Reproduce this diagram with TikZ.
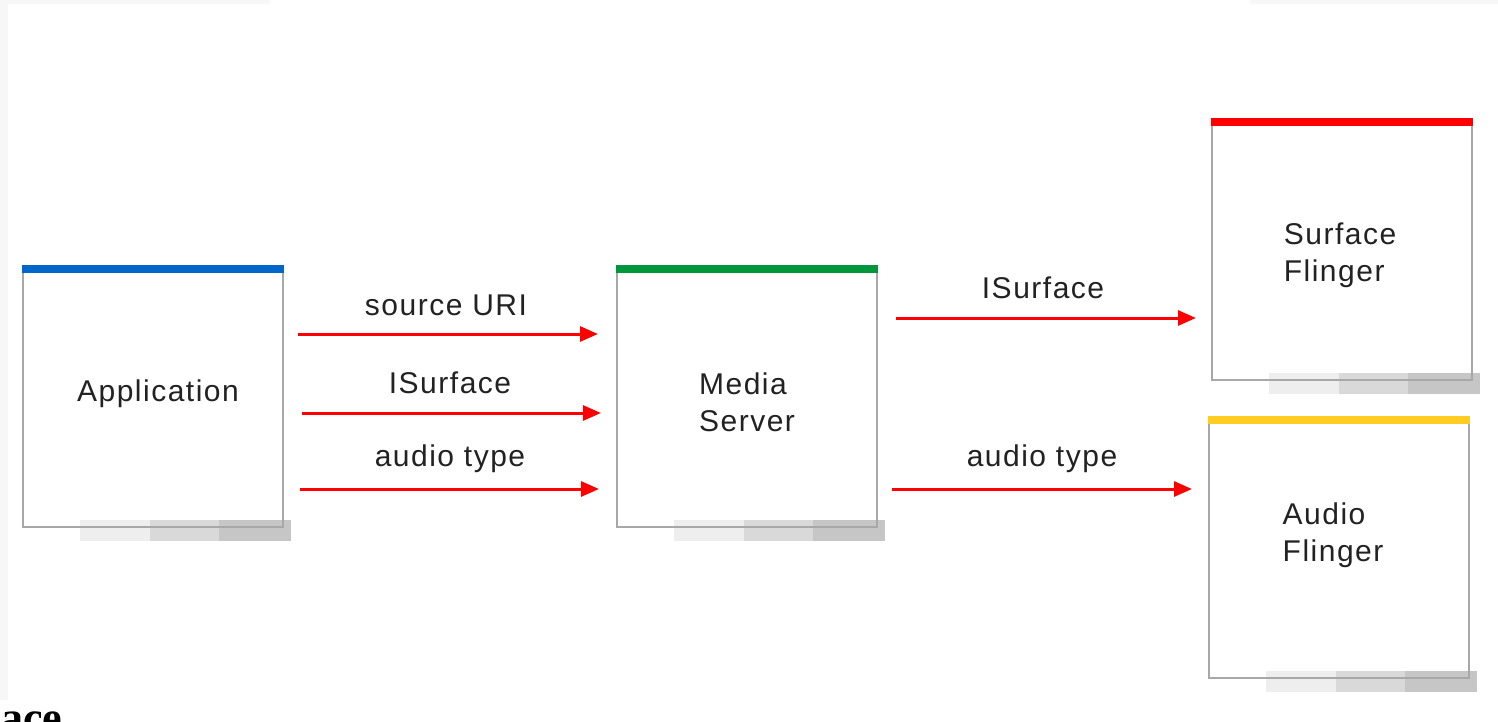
\documentclass[tikz,border=0pt]{standalone}
\usepackage{fontspec}
\setmainfont{Liberation Sans}[LetterSpace=5]
\newfontfamily\headfont{Liberation Serif}
\usetikzlibrary{arrows.meta,calc}
\definecolor{bordergray}{HTML}{A8A8A8}
\definecolor{shA}{HTML}{EEEEEE}
\definecolor{shB}{HTML}{D9D9D9}
\definecolor{shC}{HTML}{C6C6C6}
\definecolor{edgegray}{HTML}{F7F7F7}
\definecolor{appblue}{HTML}{0066CC}
\definecolor{msgreen}{HTML}{00963C}
\definecolor{sfred}{HTML}{FF0000}
\definecolor{afyellow}{HTML}{FFCC22}
\definecolor{txt}{HTML}{222222}
\tikzset{
  box/.style={fill=white, draw=none, minimum width=260pt, minimum height=261pt, inner sep=0pt},
  boxtext/.style={font=\fontsize{30}{37}\selectfont, text=txt, align=left, inner sep=0pt},
  flow/.style={draw=red, line width=3pt, -{Triangle[length=18pt,width=15pt]}},
  flowlabel/.style={font=\fontsize{30}{37}\selectfont, text=txt, inner sep=0pt},
}
\begin{document}
\begin{tikzpicture}[x=1pt,y=-1pt]
\useasboundingbox (0,0) rectangle (1498,722);
\clip (0,0) rectangle (1498,722);
\fill[white] (0,0) rectangle (1498,722);
\fill[edgegray] (0,0) rectangle (270,4);
\fill[edgegray] (1250,0) rectangle (1498,4);
\fill[edgegray] (0,0) rectangle (8,700);

% boxes
\node[box] (app) at (153,396.5) {};
\node[box] (ms) at (747,396.5) {};
\node[box] (sf) at (1342,249.5) {};
\node[box] (af) at (1339,547.5) {};

\foreach \n/\c in {app/appblue, ms/msgreen, sf/sfred, af/afyellow}{
  \coordinate (\n-a) at ($(\n.south west)+(57,-7)$);
  \coordinate (\n-b) at ($(\n.south east)+(8,14)$);
  \coordinate (\n-p) at ($(\n-a)!0.33!(\n-b)$);
  \coordinate (\n-q) at ($(\n-a)!0.66!(\n-b)$);
  \fill[shA] (\n-a) rectangle (\n-p |- \n-b);
  \fill[shB] (\n-p |- \n-a) rectangle (\n-q |- \n-b);
  \fill[shC] (\n-q |- \n-a) rectangle (\n-b);
  \draw[bordergray, line width=2pt] (\n.south west) rectangle (\n.north east);
  \fill[\c] ($(\n.north west)+(-1,-1)$) rectangle ($(\n.north east)+(1,7)$);
}

% texts
\node[boxtext] (app-t) at (158,394) {Application};
\node[boxtext] (ms-t) at (747,402) {Media\\Server};
\node[boxtext] (sf-t) at (1340,255) {Surface\\Flinger};
\node[boxtext] (af-t) at (1333,535) {Audio\\Flinger};

% arrow end points
\coordinate (a1s) at (298,334); \coordinate (a1e) at (598,334);
\coordinate (a2s) at (302,413); \coordinate (a2e) at (601,413);
\coordinate (a3s) at (300,489); \coordinate (a3e) at (599,489);
\coordinate (a4s) at (896,318); \coordinate (a4e) at (1196,318);
\coordinate (a5s) at (892,489); \coordinate (a5e) at (1192,489);

\draw[flow] (a1s) -- (a1e);
\draw[flow] (a2s) -- (a2e);
\draw[flow] (a3s) -- (a3e);
\draw[flow] (a4s) -- (a4e);
\draw[flow] (a5s) -- (a5e);

\node[flowlabel] (l1) at (446,305) {source URI};
\node[flowlabel] (l2) at (450,383) {ISurface};
\node[flowlabel] (l3) at (450,459) {audio type};
\node[flowlabel] (l4) at (1043,288) {ISurface};
\node[flowlabel] (l5) at (1042,459) {audio type};

\node[anchor=base west, inner sep=0pt, font=\headfont\bfseries\fontsize{44}{50}\selectfont] (head) at (1,732) {ace};
\end{tikzpicture}
\end{document}
